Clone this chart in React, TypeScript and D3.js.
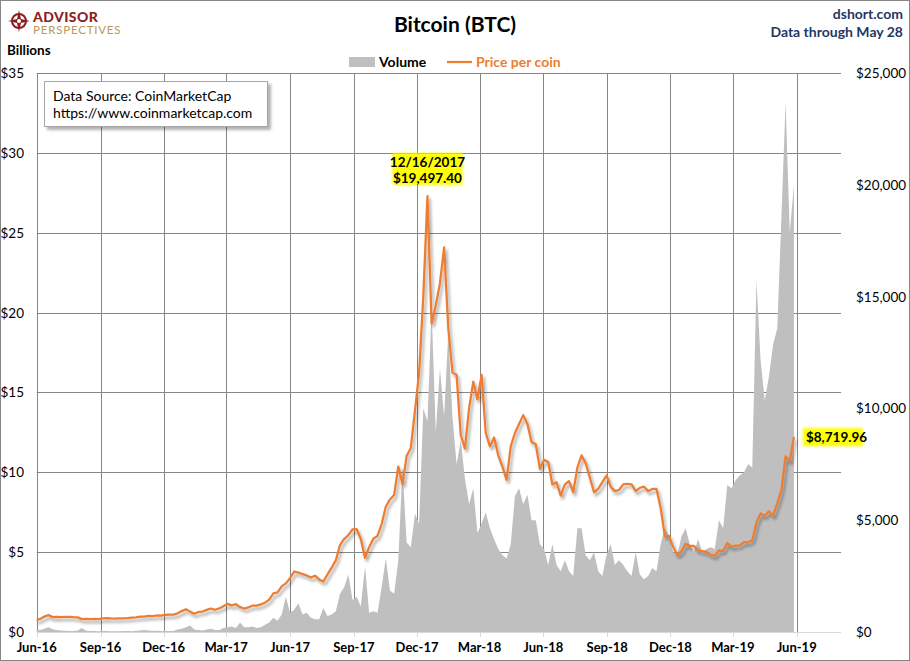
import React from 'react';
import * as d3 from 'd3';

// ---- data (sampled every 6 days starting 31 May 2016, last point 28 May 2019) ----
const startDate = new Date(2016, 4, 31);
const stepDays = 6;

// Price per coin, USD
const priceValues: number[] = [
  531, 585, 690, 755, 665, 673, 670, 672, 673, 661,
  655, 575, 590, 575, 583, 574, 610, 623, 607, 597,
  605, 610, 617, 641, 657, 688, 688, 721, 711, 738,
  728, 764, 772, 778, 834, 934, 1021, 911, 818, 895,
  915, 989, 1052, 996, 1055, 1151, 1260, 1193, 1243, 1115,
  1046, 1099, 1181, 1180, 1235, 1309, 1452, 1724, 1772, 2041,
  2173, 2408, 2706, 2659, 2589, 2530, 2435, 2518, 2353, 2260,
  2577, 2875, 3213, 3884, 4160, 4331, 4585, 4597, 4161, 3320,
  3790, 4170, 4300, 4830, 5600, 5930, 6130, 7400, 6620, 7870,
  8230, 9900, 11600, 15000, 19497.4, 13800, 14600, 15600, 17200, 13600,
  11600, 11500, 8800, 8200, 10000, 11200, 10400, 11500, 8900, 8300,
  8700, 7900, 7400, 6800, 8300, 8900, 9300, 9700, 9300, 8500,
  8400, 7300, 7700, 7600, 6600, 6700, 6100, 6600, 6750, 6250,
  7350, 7900, 7550, 6900, 6250, 6400, 6700, 7000, 6500, 6300,
  6350, 6600, 6630, 6600, 6300, 6450, 6500, 6300, 6400, 6400,
  5550, 4300, 4300, 3800, 3450, 3600, 3950, 3850, 3850, 3650,
  3620, 3580, 3450, 3410, 3650, 3620, 3980, 3810, 3860, 3870,
  4020, 4010, 4100, 4900, 5300, 5200, 5400, 5200, 5750, 6350,
  7850, 7650, 8719.96,
];

// Volume, billions of USD
const volumeValues: number[] = [
  0.15, 0.12, 0.2, 0.3, 0.18, 0.12, 0.1, 0.08, 0.06, 0.06,
  0.1, 0.25, 0.08, 0.06, 0.07, 0.05, 0.07, 0.06, 0.05, 0.05,
  0.05, 0.06, 0.06, 0.05, 0.08, 0.1, 0.12, 0.1, 0.08, 0.08,
  0.07, 0.07, 0.07, 0.07, 0.15, 0.2, 0.3, 0.4, 0.15, 0.12,
  0.1, 0.15, 0.2, 0.12, 0.12, 0.25, 0.3, 0.35, 0.25, 0.6,
  0.3, 0.3, 0.35, 0.25, 0.3, 0.45, 0.6, 0.9, 0.7, 1.1,
  2.2, 1.2, 1.4, 1.8, 1.1, 1.2, 0.9, 0.8, 0.8, 1.5,
  1.0, 1.1, 1.3, 2.4, 2.8, 3.6, 2.0, 2.2, 1.6, 4.1,
  1.2, 1.3, 1.2, 2.8, 4.6, 2.6, 2.4, 4.5, 10.3, 5.6,
  5.3, 7.4, 6.8, 14.0, 13.2, 20.2, 12.5, 16.5, 13.5, 18.7,
  13.5, 10.5, 12.0, 9.6, 8.0, 9.0, 6.2, 6.8, 7.5, 6.5,
  5.8, 5.2, 4.8, 4.6, 5.5, 8.5, 9.0, 8.0, 8.6, 7.0,
  7.0, 5.5, 5.2, 4.2, 5.5, 4.2, 3.8, 4.5, 3.8, 3.5,
  6.5, 6.5, 4.8, 4.5, 5.0, 3.8, 3.5, 4.8, 5.5, 4.2,
  4.5, 4.2, 3.8, 3.5, 5.0, 3.6, 3.3, 3.5, 4.0, 3.8,
  5.5, 6.5, 6.0, 5.0, 4.8, 6.0, 6.5, 5.5, 5.0, 5.8,
  5.0, 5.2, 5.3, 5.2, 7.0, 6.5, 9.2, 9.0, 9.5, 9.8,
  10.0, 10.5, 10.3, 22.0, 17.0, 14.5, 16.0, 18.0, 19.0, 26.0,
  33.2, 25.0, 28.0,
];

const volumeTicks = [0, 5, 10, 15, 20, 25, 30, 35];
const priceTicks = [0, 5000, 10000, 15000, 20000, 25000];
const peakLabelLines = ['12/16/2017', '$19,497.40'];
const lastLabelText = '$8,719.96';
const sourceLines = ['Data Source: CoinMarketCap', 'https://www.coinmarketcap.com'];

const FONT = 'Lato, "Open Sans", "DejaVu Sans", sans-serif';

export default function App() {
  const W = 910;
  const H = 661;
  const plotLeft = 36.7;
  const plotRight = 841;
  const plotTop = 73;
  const plotBottom = 632;

  const x = d3
    .scaleTime()
    .domain([new Date(2016, 5, 1), new Date(2019, 5, 1)])
    .range([plotLeft, 796.7]);
  const yVol = d3.scaleLinear().domain([0, 35]).range([plotBottom, plotTop]);
  const yPrice = d3.scaleLinear().domain([0, 25000]).range([plotBottom, plotTop]);

  const dates = priceValues.map((_, i) => d3.timeDay.offset(startDate, i * stepDays));
  const priceData = priceValues.map((v, i) => ({ d: dates[i], v }));
  const volData = volumeValues.map((v, i) => ({ d: dates[i], v }));

  const area = d3
    .area<{ d: Date; v: number }>()
    .x((p) => x(p.d))
    .y0(plotBottom)
    .y1((p) => yVol(p.v));
  const line = d3
    .line<{ d: Date; v: number }>()
    .x((p) => x(p.d))
    .y((p) => yPrice(p.v));

  const monthTicks = d3.timeMonth.range(new Date(2016, 5, 1), new Date(2019, 5, 2), 3);
  const fmt = d3.timeFormat('%b-%y');
  const fmtPrice = (v: number) => '$' + d3.format(',')(v);

  const peakIdx = d3.maxIndex(priceValues);
  const peak = priceData[peakIdx];
  const last = priceData[priceData.length - 1];
  const px = x(peak.d);
  const py = yPrice(peak.v);
  const lx = x(last.d);
  const ly = yPrice(last.v);

  const clipX = (v: number) => Math.max(plotLeft, v);

  return (
    <svg
      width={W}
      height={H}
      style={{ position: 'absolute', left: 0, top: 0, fontFamily: FONT }}
    >
      <defs>
        <filter id="lineShadow" x="-5%" y="-5%" width="110%" height="115%">
          <feDropShadow dx="2" dy="3" stdDeviation="1.4" floodColor="#000" floodOpacity="0.35" />
        </filter>
        <filter id="boxShadow" x="-10%" y="-10%" width="130%" height="140%">
          <feDropShadow dx="3" dy="3" stdDeviation="1.5" floodColor="#000" floodOpacity="0.3" />
        </filter>
        <filter id="glow" x="-20%" y="-40%" width="140%" height="180%">
          <feGaussianBlur stdDeviation="1.6" />
        </filter>
        <clipPath id="plotClip">
          <rect x={plotLeft} y={plotTop - 2} width={plotRight - plotLeft} height={plotBottom - plotTop + 2} />
        </clipPath>
      </defs>

      <rect x={0.5} y={0.5} width={W - 1} height={H - 1} fill="#fff" stroke="#868686" />

      {/* Logo */}
      <g>
        <circle cx={19} cy={21} r={7} fill="none" stroke="#8B1E24" strokeWidth={2} />
        <path
          d="M19,10 L21,19 L30,21 L21,23 L19,32 L17,23 L8,21 L17,19 Z"
          fill="#8B1E24"
        />
        <circle cx={19} cy={21} r={2} fill="#fff" />
        <text x={33} y={21.5} fontSize={14} fontWeight={900} fill="#8B1E24" letterSpacing={0.4}>
          ADVISOR
        </text>
        <text x={33} y={34} fontSize={11.5} fill="#B9975B" letterSpacing={0.8}>
          PERSPECTIVES
        </text>
      </g>

      {/* Title */}
      <text x={455} y={32} fontSize={21} fontWeight={700} textAnchor="middle" fill="#000">
        Bitcoin (BTC)
      </text>
      <text x={903} y={19} fontSize={14} fontWeight={700} textAnchor="end" fill="#1F3864">
        dshort.com
      </text>
      <text x={903} y={37} fontSize={14} fontWeight={700} textAnchor="end" fill="#1F3864">
        Data through May 28
      </text>

      {/* Legend */}
      <rect x={349} y={57} width={26} height={10} fill="#BFBFBF" />
      <text x={379} y={67} fontSize={14} fontWeight={700} fill="#000">
        Volume
      </text>
      <line x1={447} x2={472} y1={62} y2={62} stroke="#ED7D31" strokeWidth={2.25} />
      <text x={476} y={67} fontSize={14} fontWeight={700} fill="#ED7D31">
        Price per coin
      </text>

      <text x={7} y={55} fontSize={13.5} fontWeight={700} fill="#000">
        Billions
      </text>

      {/* Horizontal gridlines */}
      {volumeTicks.map((t) => (
        <line
          key={'h' + t}
          x1={plotLeft}
          x2={plotRight}
          y1={Math.round(yVol(t)) + 0.5}
          y2={Math.round(yVol(t)) + 0.5}
          stroke={t === 0 ? '#D9D9D9' : '#868686'}
          strokeWidth={1}
        />
      ))}
      {/* Vertical gridlines */}
      {monthTicks.map((d) => (
        <line
          key={'v' + d.getTime()}
          x1={Math.round(x(d)) + 0.5}
          x2={Math.round(x(d)) + 0.5}
          y1={plotTop}
          y2={plotBottom}
          stroke="#868686"
          strokeWidth={1}
        />
      ))}
      {monthTicks.map((d) => (
        <line
          key={'t' + d.getTime()}
          x1={Math.round(x(d)) + 0.5}
          x2={Math.round(x(d)) + 0.5}
          y1={plotBottom}
          y2={plotBottom + 5}
          stroke="#D9D9D9"
          strokeWidth={1}
        />
      ))}

      {/* Volume area and price line */}
      <g clipPath="url(#plotClip)">
        <path d={area(volData) || ''} fill="#BFBFBF" />
        <path
          d={line(priceData) || ''}
          fill="none"
          stroke="#ED7D31"
          strokeWidth={2.25}
          strokeLinejoin="round"
          filter="url(#lineShadow)"
        />
      </g>

      {/* Left axis labels */}
      {volumeTicks.map((t) => (
        <text key={'l' + t} x={24} y={yVol(t) + 5} fontSize={13.5} textAnchor="end" fill="#000">
          {'$' + t}
        </text>
      ))}
      {/* Right axis labels */}
      {priceTicks.map((t) => (
        <text key={'r' + t} x={856} y={yPrice(t) + 5} fontSize={13.5} textAnchor="start" fill="#000">
          {fmtPrice(t)}
        </text>
      ))}
      {/* X labels */}
      {monthTicks.map((d) => (
        <text
          key={'x' + d.getTime()}
          x={clipX(x(d))}
          y={652}
          fontSize={13}
          fontWeight={700}
          textAnchor="middle"
          fill="#000"
        >
          {fmt(d)}
        </text>
      ))}

      {/* Source box */}
      <rect x={44.5} y={81.5} width={223} height={45} fill="#fff" stroke="#A6A6A6" filter="url(#boxShadow)" />
      {sourceLines.map((s, i) => (
        <text key={s} x={53} y={101 + i * 17} fontSize={14} fill="#000">
          {s}
        </text>
      ))}

      {/* Peak annotation */}
      <rect x={px - 35} y={py - 43} width={70} height={32} fill="#FFFF00" filter="url(#glow)" />
      {peakLabelLines.map((s, i) => (
        <text key={s} x={px} y={py - 29 + i * 16} fontSize={13.5} fontWeight={700} textAnchor="middle" fill="#000">
          {s}
        </text>
      ))}

      {/* Last value annotation */}
      <rect x={lx + 9} y={ly - 9} width={60} height={18} fill="#FFFF00" filter="url(#glow)" />
      <text x={lx + 12} y={ly + 5} fontSize={13.5} fontWeight={700} fill="#000">
        {lastLabelText}
      </text>
    </svg>
  );
}
